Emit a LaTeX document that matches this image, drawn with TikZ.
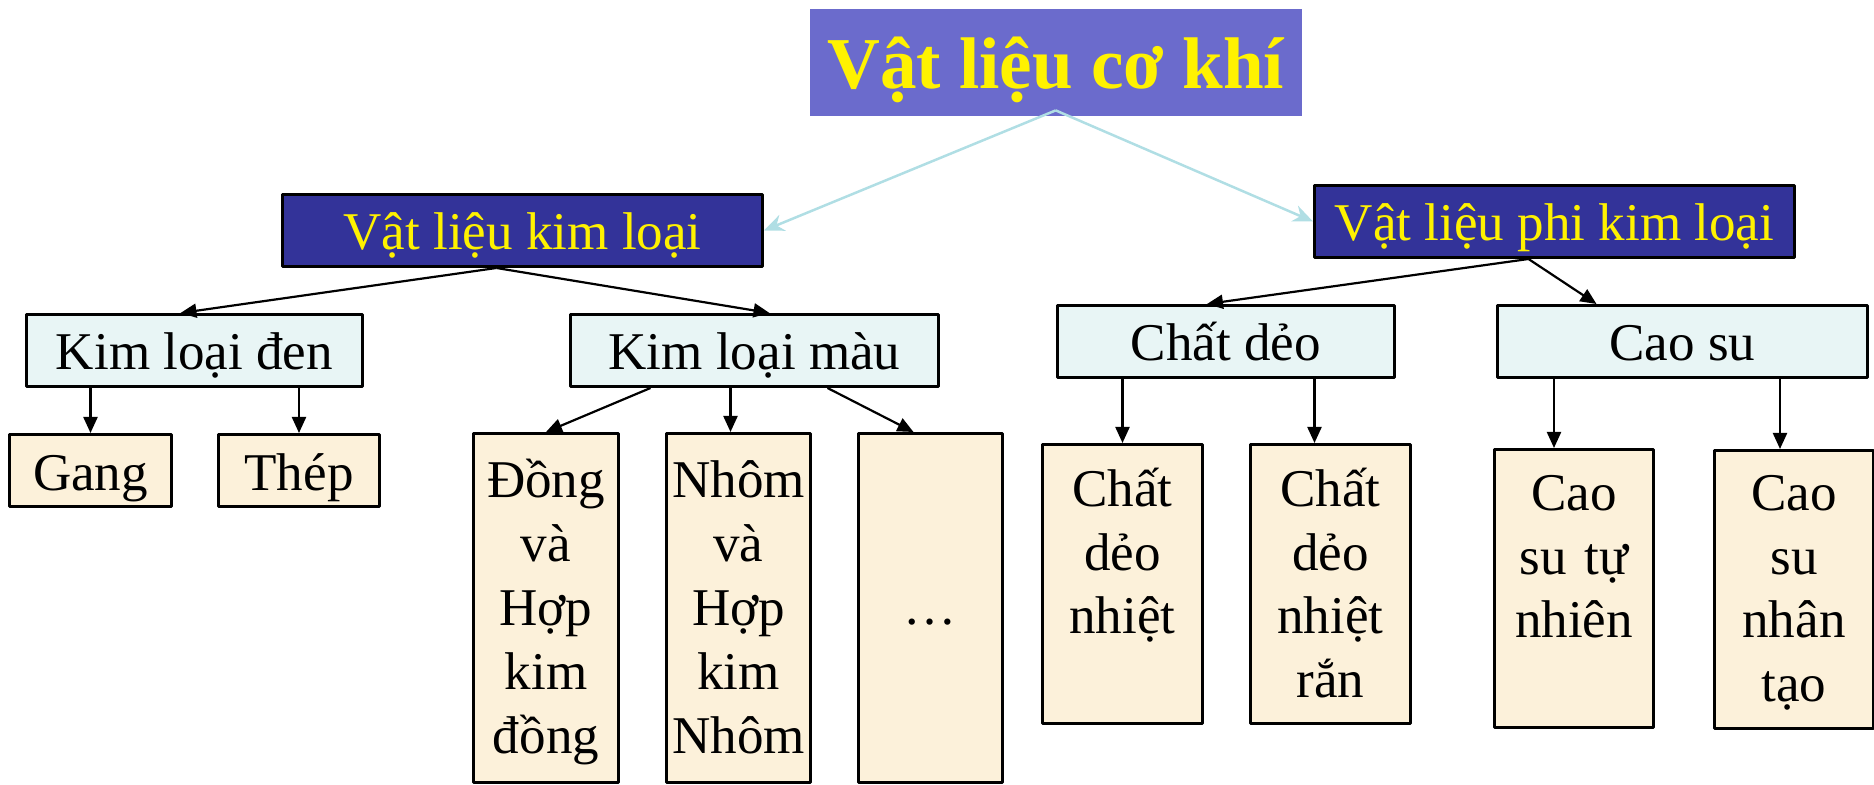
\documentclass[tikz,border=0pt]{standalone}
\usepackage{fontspec}
\setmainfont{Liberation Serif}
\usetikzlibrary{arrows.meta}
\definecolor{tim}{RGB}{107,107,204}
\definecolor{xanhdam}{RGB}{51,51,153}
\definecolor{xanhnhat}{RGB}{232,245,245}
\definecolor{kem}{RGB}{252,241,218}
\definecolor{xanhmuoi}{RGB}{176,222,228}
\begin{document}
\begin{tikzpicture}[x=0.1mm, y=-0.1mm, line join=round, font=\fontsize{15.1pt}{18.1pt}\selectfont, >={Triangle[length=1.6mm,width=1.4mm]},
	goc/.style={fill=tim, text=yellow, anchor=north west, inner sep=0pt, font=\bfseries\fontsize{20.8pt}{25pt}\selectfont},
	cap1/.style={fill=xanhdam, draw=black, line width=0.3mm, text=yellow, anchor=north west, inner sep=0pt, minimum width=48mm, text height=5.5mm, text depth=1.7mm},
	cap2/.style={fill=xanhnhat, draw=black, line width=0.3mm, anchor=north west, inner sep=0pt, text height=5.5mm, text depth=1.7mm},
	cap3/.style={fill=kem, draw=black, line width=0.3mm, anchor=north west, inner sep=0pt, align=center},
	muiten/.style={->, line width=0.22mm},
	muitennhat/.style={-{Stealth[length=2mm,width=1.7mm]}, draw=xanhmuoi, line width=0.25mm}]
	\useasboundingbox (0,0) rectangle (1874,785);
	\node[goc, minimum width=49.2mm, text height=8mm, text depth=2.7mm] (vl) at (809,8) {Vật liệu cơ khí};
	\node[cap1] (kl) at (281,193) {Vật liệu kim loại};
	\node[cap1] (pkl) at (1313,184) {Vật liệu phi kim loại};
	\node[cap2, minimum width=33.6mm] (kld) at (25,313) {Kim loại đen};
	\node[cap2, minimum width=36.8mm] (klm) at (569,313) {Kim loại màu};
	\node[cap2, minimum width=33.7mm] (cd) at (1056,304) {Chất dẻo};
	\node[cap2, minimum width=37mm] (cs) at (1496,304) {Cao su};
	\node[cap3, minimum width=16.2mm, text height=5.6mm, text depth=1.6mm] (gang) at (8,433) {Gang};
	\node[cap3, minimum width=16.1mm, text height=5.6mm, text depth=1.6mm] (thep) at (217,433) {Thép};
	\node[cap3, text width=14.5mm, text height=6.4mm, text depth=28.5mm, font=\fontsize{15.1pt}{18.2pt}\selectfont] (dong) at (472,432) {Đồng\\và\\Hợp\\kim\\đồng};
	\node[cap3, text width=14.4mm, text height=6.4mm, text depth=28.5mm, font=\fontsize{15.1pt}{18.2pt}\selectfont] (nhom) at (665,432) {Nhôm\\và\\Hợp\\kim\\Nhôm};
	\node[cap3, text width=14.4mm, text height=19.1mm, text depth=15.8mm] (khac) at (857,432) {…};
	\node[cap3, text width=16mm, text height=6.2mm, text depth=21.7mm] (cdn) at (1041,443) {Chất\\dẻo\\nhiệt};
	\node[cap3, text width=16mm, text height=6.2mm, text depth=21.7mm] (cdnr) at (1249,443) {Chất\\dẻo\\nhiệt\\rắn};
	\node[cap3, text width=15.9mm, text height=6.1mm, text depth=21.7mm] (cstn) at (1493,448) {Cao\\su tự\\nhiên};
	\node[cap3, text width=15.9mm, text height=6mm, text depth=21.8mm] (csnt) at (1713,449) {Cao\\su\\nhân\\tạo};
	\draw[muitennhat] ([yshift=0.6mm]vl.south) -- (kl.east);
	\draw[muitennhat] ([yshift=0.6mm]vl.south) -- (pkl.west);
	\draw[muiten] ([xshift=-2.6mm]kl.south) -- ([xshift=-1.4mm]kld.north);
	\draw[muiten] ([xshift=-2.6mm]kl.south) -- ([xshift=1.5mm]klm.north);
	\draw[muiten] ([xshift=-2.6mm]pkl.south) -- ([xshift=-1.9mm]cd.north);
	\draw[muiten] ([xshift=-2.6mm]pkl.south) -- ([xshift=-8.6mm]cs.north);
	\draw[muiten] (gang.north |- kld.south) -- (gang.north);
	\draw[muiten] (thep.north |- kld.south) -- (thep.north);
	\draw[muiten] ([xshift=-10.4mm]klm.south) -- (dong.north);
	\draw[muiten] ([xshift=-0.8mm]nhom.north |- klm.south) -- ([xshift=-0.8mm]nhom.north);
	\draw[muiten] ([xshift=7.3mm]klm.south) -- ([xshift=-1.7mm]khac.north);
	\draw[muiten] (cdn.north |- cd.south) -- (cdn.north);
	\draw[muiten] ([xshift=-1.6mm]cdnr.north |- cd.south) -- ([xshift=-1.6mm]cdnr.north);
	\draw[muiten] ([xshift=-2mm]cstn.north |- cs.south) -- ([xshift=-2mm]cstn.north);
	\draw[muiten] ([xshift=-1.4mm]csnt.north |- cs.south) -- ([xshift=-1.4mm]csnt.north);
\end{tikzpicture}
\end{document}
